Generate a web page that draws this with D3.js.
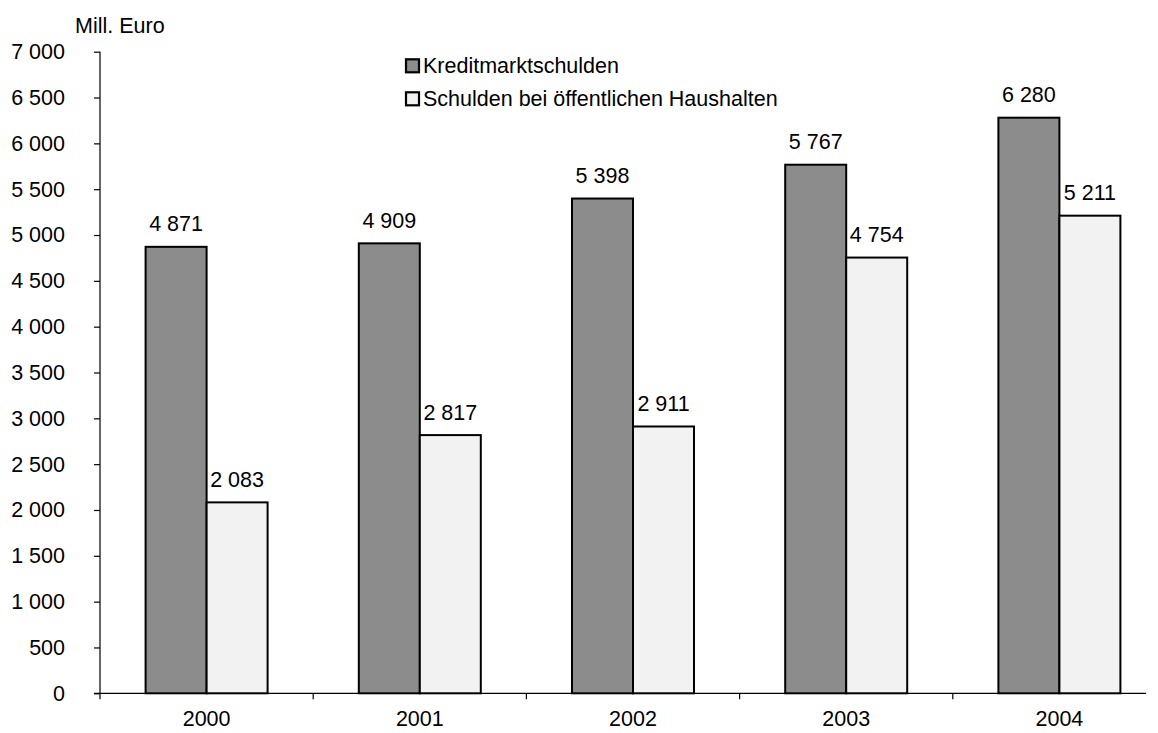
<!DOCTYPE html>
<html><head><meta charset="utf-8">
<script src="https://cdn.jsdelivr.net/npm/d3@7"></script>
<style>body{margin:0;background:#fff}svg text{font-family:"Liberation Sans",Arial,sans-serif;fill:#000}</style>
</head><body><svg id="c" width="1158" height="733"></svg>
<script>
const years = ["2000","2001","2002","2003","2004"];
const kredit = [4871, 4909, 5398, 5767, 6280];
const oeffentlich = [2083, 2817, 2911, 4754, 5211];
const seriesNames = ["Kreditmarktschulden","Schulden bei öffentlichen Haushalten"];
const colors = ["#8c8c8c","#f2f2f2"];
const yTicks = d3.range(0, 7001, 500);
const FS = 21.5;

const svg = d3.select("#c");
const x0 = 100, plotTop = 51.7, base = 693.3;
const x = d3.scaleBand().domain(years).range([x0, x0 + 5*213.2]).paddingInner(0).paddingOuter(0);
const y = d3.scaleLinear().domain([0,7000]).range([base, plotTop]);
const fmt = v => d3.format(",")(v).replace(/,/g, " ");

// y axis
const ya = svg.append("g").attr("transform",`translate(${x0},0)`)
  .call(d3.axisLeft(y).tickValues(yTicks).tickSize(6).tickPadding(29).tickFormat(fmt));
ya.attr("font-size",FS).attr("font-family","Liberation Sans, Arial, sans-serif");
ya.select(".domain").attr("d",`M0,${plotTop}V${base}`).attr("stroke","#000").attr("stroke-width",1.2);
ya.selectAll(".tick line").attr("stroke","#000").attr("stroke-width",1.2);
ya.selectAll(".tick text").attr("font-size",FS);

// x axis
const xa = svg.append("g").attr("transform",`translate(0,${base})`)
  .call(d3.axisBottom(x).tickSize(0).tickPadding(17));
xa.attr("font-size",FS).attr("font-family","Liberation Sans, Arial, sans-serif");
xa.select(".domain").attr("d",`M${x0-6},0H1146`).attr("stroke","#000").attr("stroke-width",1.2);
xa.selectAll(".tick text").attr("font-size",FS);
const sep = years.map((d,i)=>x(d)).filter(v=>v<1146);
svg.append("g").selectAll("line").data(sep).join("line")
  .attr("x1",d=>d).attr("x2",d=>d).attr("y1",base).attr("y2",base+6)
  .attr("stroke","#000").attr("stroke-width",1.2);

svg.append("text").attr("x",75).attr("y",32.5).attr("font-size",FS).text("Mill. Euro");

// bars
const barW = 61;
const data = [kredit, oeffentlich];
data.forEach((vals, s) => {
  const g = svg.append("g");
  g.selectAll("rect").data(vals).join("rect")
    .attr("x",(d,i)=>x(years[i]) + x.bandwidth()/2 - barW + s*barW)
    .attr("y",d=>y(d)).attr("width",barW).attr("height",d=>base-y(d))
    .attr("fill",colors[s]).attr("stroke","#000").attr("stroke-width",2);
  g.selectAll("text").data(vals).join("text")
    .attr("x",(d,i)=>x(years[i]) + x.bandwidth()/2 - barW/2 + s*barW)
    .attr("y",d=>y(d)-15.5).attr("text-anchor","middle").attr("font-size",FS)
    .text(fmt);
});

// legend
const lg = svg.append("g");
seriesNames.forEach((n,i)=>{
  const bl = 73.3 + i*33;
  lg.append("rect").attr("x",406).attr("y",bl-14).attr("width",13).attr("height",13)
    .attr("fill",colors[i]).attr("stroke","#000").attr("stroke-width",2.2);
  lg.append("text").attr("x",423).attr("y",bl).attr("font-size",FS).text(n);
});
</script></body></html>
